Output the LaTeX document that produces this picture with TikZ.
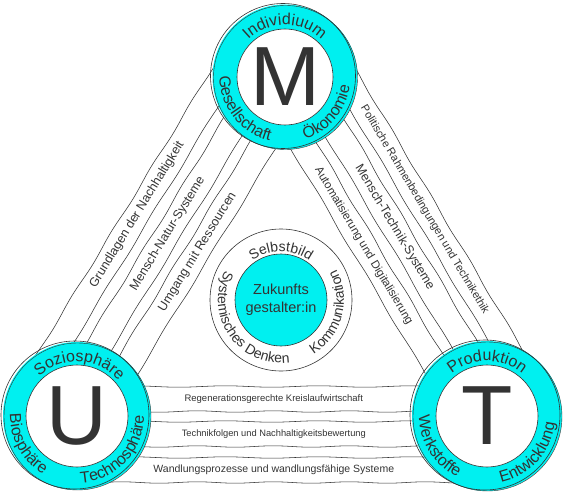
\documentclass[tikz,border=0pt]{standalone}
\usepackage{fontspec}
\setmainfont{Liberation Sans}
\usepackage{tikz}
\usetikzlibrary{calc,decorations.text,decorations.pathmorphing}

\definecolor{ringcyan}{RGB}{0,240,240}
\definecolor{linegray}{RGB}{51,51,51}
\definecolor{txtgray}{RGB}{51,51,51}

\newcommand{\ringfont}{\fontsize{16}{16}\selectfont\color{txtgray}}
\newcommand{\innerfont}{\fontsize{14}{14}\selectfont\color{txtgray}}

\pgfdeclarelayer{bg}
\pgfsetlayers{bg,main}

\begin{document}
\begin{tikzpicture}[
        x=1pt, y=1pt,
        ring/.style={circle, fill=ringcyan, inner sep=0pt, minimum size=#1},
        core/.style={circle, draw=linegray, line width=0.6pt, fill=white, inner sep=0pt,
            minimum size=#1, text=txtgray, font=\fontsize{84}{84}\selectfont},
        sketch/.style={draw=linegray, line width=0.6pt},
        bandline/.style={draw=linegray, line width=0.55pt, decorate,
            decoration={snake, amplitude=0.7pt, segment length=#1}},
        bandtext/.style={sloped, text=txtgray, inner sep=0pt, font=\fontsize{#1}{#1}\selectfont},
        % Text entlang der Kreisbögen
        ringtext/.style={decorate, decoration={text along path, text align=center, text={|\ringfont|#1}}},
        midtext/.style={decorate, decoration={text along path, text align=center, text={|\innerfont|#1}}}
    ]
    \useasboundingbox (0,0) rectangle (563,491);

    % --- Die drei Ringe: M, U, T ---
    \node[ring=145pt] (M) at (285,414) {};
    \node[ring=148pt] (U) at (77,75) {};
    \node[ring=150pt] (T) at (487,75) {};

    \draw[sketch] ([shift={(-2,1)}]M.center) circle[radius=72.5pt];
    \draw[sketch, line width=0.4pt] ([shift={(0.5,-0.5)}]M.center) circle[radius=72pt];
    \draw[sketch] ([shift={(-2,1)}]U.center) circle[radius=74pt];
    \draw[sketch, line width=0.4pt] ([shift={(0.5,-0.5)}]U.center) circle[radius=73.5pt];
    \draw[sketch] ([shift={(-2,1)}]T.center) circle[radius=75pt];
    \draw[sketch, line width=0.4pt] ([shift={(0.5,-0.5)}]T.center) circle[radius=74.5pt];

    \node[core=96pt] (Mc) at (M) {M};
    \node[core=102pt] (Uc) at (U) {U};
    \node[core=102pt] (Tc) at (T) {T};

    \path[ringtext=Individiuum] ([shift={(150:52pt)}]M.center) arc[start angle=150, end angle=30, radius=52pt];
    \path[ringtext=Gesellschaft] ([shift={(158:65.5pt)}]M.center) arc[start angle=158, end angle=278, radius=65.5pt];
    \path[ringtext=Ökonomie] ([shift={(260:65.5pt)}]M.center) arc[start angle=260, end angle=380, radius=65.5pt];

    \path[ringtext=Soziosphäre] ([shift={(147:54.5pt)}]U.center) arc[start angle=147, end angle=27, radius=54.5pt];
    \path[ringtext=Biosphäre] ([shift={(149:67pt)}]U.center) arc[start angle=149, end angle=269, radius=67pt];
    \path[ringtext=Technosphäre] ([shift={(257:67pt)}]U.center) arc[start angle=257, end angle=377, radius=67pt];

    \path[ringtext=Produktion] ([shift={(150:55pt)}]T.center) arc[start angle=150, end angle=30, radius=55pt];
    \path[ringtext=Werkstoffe] ([shift={(152:68pt)}]T.center) arc[start angle=152, end angle=272, radius=68pt];
    \path[ringtext=Entwicklung] ([shift={(258:68pt)}]T.center) arc[start angle=258, end angle=378, radius=68pt];

    % --- Mitte ---
    \node[circle, draw=linegray, line width=0.6pt, minimum size=142pt] (Z) at (281,191) {};
    \node[circle, draw=linegray, line width=0.6pt, fill=ringcyan, minimum size=92pt, inner sep=0pt,
        align=center, text=txtgray, font=\fontsize{14.5}{18}\selectfont] (Zc) at (Z) {Zukunfts\\gestalter:in};

    \path[midtext=Selbstbild] ([shift={(150:48.5pt)}]Z.center) arc[start angle=150, end angle=30, radius=48.5pt];
    \path[midtext=Systemisches Denken] ([shift={(135:63pt)}]Z.center) arc[start angle=135, end angle=295, radius=63pt];
    \path[midtext=Kommunikation] ([shift={(275:63pt)}]Z.center) arc[start angle=275, end angle=415, radius=63pt];

    % --- Bänder zwischen den Ringen ---
    \begin{pgfonlayer}{bg}
    \foreach \from/\to/\off/\fs/\p/\lbl in {
        U/M/54/12.5/0.51/Grundlagen der Nachhaltigkeit,
        U/M/18/12.5/0.51/Mensch-Natur-Systeme,
        U/M/-17/12.5/0.51/Umgang mit Ressourcen,
        M/T/52/11/0.47/Politische Rahmenbedingungen und Technikethik,
        M/T/17/12.5/0.47/Mensch-Technik-Systeme,
        M/T/-19/11.5/0.47/Automatisierung und Digitalisierung,
        T/U/54/10.5/0.52/Wandlungsprozesse und wandlungsfähige Systeme,
        T/U/18/9.3/0.52/Technikfolgen und Nachhaltigkeitsbewertung,
        T/U/-17/9.5/0.52/Regenerationsgerechte Kreislaufwirtschaft}
    {
        \pgfmathsetmacro\offA{\off+12.5}
        \pgfmathsetmacro\offB{\off-12.5}
        \draw[bandline=76pt] ($(\from)!\offA pt!90:(\to)$) -- ($(\to)!\offA pt!-90:(\from)$);
        \draw[bandline=93pt] ($(\from)!\offB pt!90:(\to)$) -- ($(\to)!\offB pt!-90:(\from)$);
        \path ($(\from)!\off pt!90:(\to)$) -- node[bandtext=\fs, pos=\p] {\lbl} ($(\to)!\off pt!-90:(\from)$);
    }
    \end{pgfonlayer}
\end{tikzpicture}
\end{document}
